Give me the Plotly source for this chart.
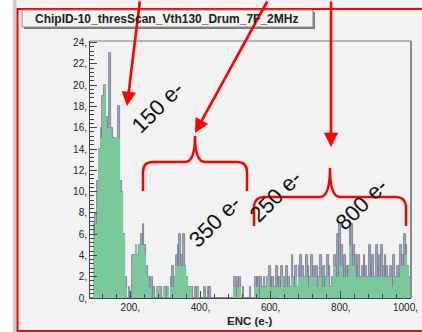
import numpy as np
import plotly.graph_objects as go

# ---------------- data (ENC histogram, 5 e- bins starting at 85 e-) ----------------
bin_start = 85
bin_width = 5
counts_gray = [
    0, 0, 7, 8, 11, 14, 16, 19, 20, 17,
    16, 23, 16, 15, 15, 14, 18, 11, 10, 6,
    2, 0, 1, 0, 4, 4, 5, 4, 5, 6,
    7, 5, 3, 2, 1, 2, 1, 0, 1, 1,
    1, 0, 1, 1, 1, 0, 2, 3, 2, 4,
    5, 6, 4, 6, 3, 2, 1, 1, 1, 0,
    1, 1, 0, 0, 0, 1, 0, 1, 1, 0,
    0, 0, 0, 0, 0, 0, 0, 0, 0, 0,
    0, 0, 2, 1, 2, 2, 0, 1, 0, 0,
    0, 1, 0, 0, 2, 2, 2, 2, 1, 2,
    1, 2, 3, 2, 2, 1, 3, 2, 2, 3,
    2, 1, 3, 2, 1, 4, 2, 3, 1, 3,
    4, 3, 2, 4, 3, 2, 4, 3, 2, 3,
    2, 4, 2, 3, 2, 4, 3, 1, 2, 4,
    3, 6, 7, 5, 3, 4, 3, 3, 7, 7,
    5, 4, 3, 4, 2, 3, 4, 3, 2, 5,
    3, 4, 2, 5, 3, 4, 5, 3, 4, 3,
    2, 3, 2, 4, 2, 3, 2, 5, 4, 6,
    5, 3, 2,
]
counts_green = [
    0, 0, 6, 7, 10, 14, 15, 19, 20, 16,
    16, 16, 15, 15, 15, 15, 15, 10, 10, 6,
    1, 0, 0, 0, 3, 4, 5, 4, 5, 5,
    5, 4, 2, 1, 1, 0, 0, 0, 1, 1,
    0, 0, 1, 0, 1, 0, 1, 1, 2, 3,
    3, 3, 3, 3, 3, 2, 1, 1, 0, 0,
    0, 1, 0, 0, 0, 0, 0, 0, 0, 0,
    0, 0, 0, 0, 0, 0, 0, 0, 0, 0,
    0, 0, 1, 0, 1, 1, 0, 0, 0, 0,
    0, 0, 0, 0, 1, 1, 0, 1, 1, 1,
    1, 2, 1, 1, 1, 1, 1, 1, 1, 2,
    1, 1, 1, 1, 1, 2, 1, 2, 1, 2,
    2, 2, 2, 2, 1, 2, 2, 1, 2, 1,
    1, 2, 1, 1, 2, 2, 1, 1, 2, 3,
    2, 2, 3, 3, 2, 2, 2, 2, 5, 3,
    3, 2, 2, 2, 2, 2, 2, 2, 2, 2,
    2, 2, 2, 2, 2, 2, 2, 2, 2, 2,
    2, 2, 1, 2, 1, 2, 2, 3, 3, 3,
    4, 3, 2,
]
x_max_label = 1000
title_text = "ChipID-10_thresScan_Vth130_Drum_7F_2MHz"
x_title = "ENC (e-)"
labels = ["150 e-", "350 e-", "250 e-", "800 e-"]

centers = bin_start + bin_width / 2 + bin_width * np.arange(len(counts_gray))

# ---------------- geometry helpers (pixel -> paper) ----------------
W, H = 422, 332
L, R, T, B = 90, 11, 41, 34
PW, PH = W - L - R, H - T - B


def fx(x):
    return (x - L) / PW


def fy(y):
    return (H - B - y) / PH


BG = "#f2f2f2"
RED = "#ff0000"

fig = go.Figure()
fig.add_trace(go.Bar(x=centers, y=counts_gray, width=bin_width,
                     marker=dict(color="#a2a8b8", line=dict(color="#737b8e", width=0.8)),
                     showlegend=False))
fig.add_trace(go.Bar(x=centers, y=counts_green, width=bin_width,
                     marker=dict(color="#79c99b", line=dict(width=0)),
                     showlegend=False))

shapes = []
shapes.append(dict(type="rect", xref="paper", yref="paper", x0=fx(-5), x1=fx(13), y0=fy(340), y1=fy(-5),
                   fillcolor="white", line=dict(width=0), layer="below"))
shapes.append(dict(type="rect", xref="paper", yref="paper", x0=fx(13), x1=fx(16.5), y0=fy(340), y1=fy(-5),
                   fillcolor="#cdcdcd", line=dict(width=0), layer="below"))
shapes.append(dict(type="rect", xref="paper", yref="paper", x0=fx(17.5), x1=fx(440), y0=fy(331), y1=fy(9),
                   line=dict(color=RED, width=2), fillcolor="rgba(0,0,0,0)"))
shapes.append(dict(type="rect", xref="paper", yref="paper", x0=fx(24), x1=fx(315), y0=fy(29), y1=fy(12),
                   fillcolor="#7a7a7a", line=dict(width=0)))
shapes.append(dict(type="rect", xref="paper", yref="paper", x0=fx(22), x1=fx(313), y0=fy(27), y1=fy(10),
                   fillcolor="#f4f4f4", line=dict(color="#8a8a8a", width=1)))
shapes.append(dict(type="line", xref="paper", yref="paper", x0=0, x1=1, y0=1, y1=1,
                   line=dict(color="#7a7a7a", width=1)))
shapes.append(dict(type="line", xref="paper", yref="paper", x0=fx(411), x1=fx(411), y0=0, y1=1,
                   line=dict(color="#8c8c8c", width=2)))


def path(points):
    s = ""
    for cmd, pts in points:
        s += cmd + " " + " ".join(f"{fx(a):.5f},{fy(b):.5f}" for a, b in pts) + " "
    return s.strip()


shapes.append(dict(type="path", xref="paper", yref="paper", line=dict(color=RED, width=2.5),
                   path=path([("M", [(143, 191)]), ("L", [(143, 172)]), ("Q", [(143, 162), (153, 162)]),
                              ("L", [(185, 162)]), ("Q", [(195, 162), (195, 136)]),
                              ("Q", [(195, 162), (205, 162)]), ("L", [(237, 162)]),
                              ("Q", [(247, 162), (247, 172)]), ("L", [(247, 191)])])))
shapes.append(dict(type="path", xref="paper", yref="paper", line=dict(color=RED, width=2.5),
                   path=path([("M", [(254, 226)]), ("L", [(254, 206)]), ("Q", [(255, 197), (264, 197)]),
                              ("L", [(320, 197)]), ("Q", [(330, 197), (330, 168)]),
                              ("Q", [(330, 197), (340, 197)]), ("L", [(396, 197)]),
                              ("Q", [(405, 197), (406, 206)]), ("L", [(406, 226)])])))

annotations = []
for (tx, ty, sx, sy) in [(127, 106, 140, -2), (195, 133, 268, -2), (331, 147, 331, -2)]:
    annotations.append(dict(x=fx(tx), y=fy(ty), xref="paper", yref="paper", text="",
                            showarrow=True, arrowhead=2, arrowsize=1.1, arrowwidth=2.6,
                            arrowcolor=RED, ax=sx - tx, ay=sy - ty, standoff=0))
for txt, (cx, cy) in zip(labels, [(157, 107), (215, 222), (275, 196), (361, 204)]):
    annotations.append(dict(x=fx(cx), y=fy(cy), xref="paper", yref="paper", text=txt, showarrow=False,
                            textangle=-45, font=dict(family="Liberation Sans, Arial", size=22, color="#111"),
                            xanchor="center", yanchor="middle"))
annotations.append(dict(x=fx(166), y=fy(18.5), xref="paper", yref="paper", text="<b>" + title_text + "</b>",
                        showarrow=False, font=dict(family="Liberation Sans, Arial", size=12, color="#222"),
                        xanchor="center", yanchor="middle"))
annotations.append(dict(x=fx(250), y=fy(321), xref="paper", yref="paper", text="<b>" + x_title + "</b>",
                        showarrow=False, font=dict(family="Liberation Sans, Arial", size=11.5, color="#222"),
                        xanchor="center", yanchor="middle"))
# last x tick label, kept inside the figure edge as in the reference
annotations.append(dict(x=fx(420), y=fy(307), xref="paper", yref="paper", text=f"{x_max_label},",
                        showarrow=False, font=dict(family="Liberation Sans, Arial", size=10, color="#222"),
                        xanchor="right", yanchor="middle"))

fig.update_layout(
    width=W, height=H, margin=dict(l=L, r=R, t=T, b=B, pad=0),
    paper_bgcolor=BG, plot_bgcolor=BG,
    barmode="overlay", bargap=0,
    shapes=shapes, annotations=annotations,
    font=dict(family="Liberation Sans, Arial", size=10, color="#222"),
)
fig.update_xaxes(range=[85, 1000], tickmode="linear", tick0=0, dtick=200, ticksuffix=",",
                 ticks="inside", ticklen=7, tickcolor="#444", showgrid=False, zeroline=False,
                 showline=True, linecolor="#444", linewidth=1, automargin=False,
                 tickfont=dict(size=10, color="#222"),
                 minor=dict(ticks="inside", ticklen=4, tickcolor="#444", dtick=40, tick0=0))
fig.update_yaxes(range=[0, 24.15], tickmode="linear", tick0=0, dtick=2, ticksuffix=",",
                 ticks="inside", ticklen=7, tickcolor="#444", showgrid=False, zeroline=False,
                 showline=True, linecolor="#444", linewidth=1, automargin=False,
                 tickfont=dict(size=10, color="#222"),
                 minor=dict(ticks="inside", ticklen=4, tickcolor="#444", dtick=0.4, tick0=0))

fig.write_html("out.html")
